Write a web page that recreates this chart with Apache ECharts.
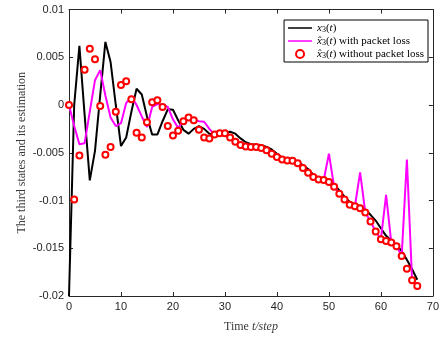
<!DOCTYPE html>
<html><head><meta charset="utf-8">
<script src="https://cdn.jsdelivr.net/npm/echarts@6/dist/echarts.min.js"></script>
<style>html,body{margin:0;padding:0;background:#fff}#c{width:442px;height:338px}</style>
</head><body><div id="c"></div>
<script>
var steps = [0,1,2,3,4,5,6,7,8,9,10,11,12,13,14,15,16,17,18,19,20,21,22,23,24,25,26,27,28,29,30,31,32,33,34,35,36,37,38,39,40,41,42,43,44,45,46,47,48,49,50,51,52,53,54,55,56,57,58,59,60,61,62,63,64,65,66,67];
var stateX3 = [-0.0200,0.0000,0.0062,-0.0010,-0.0079,-0.0048,0.0010,0.0066,0.0045,0.0000,-0.0043,-0.0034,-0.0007,0.0017,0.0011,-0.0012,-0.0031,-0.0031,-0.0017,-0.00045,-0.0005,-0.0016,-0.0026,-0.0030,-0.0025,-0.0022,-0.0025,-0.0030,-0.0031,-0.0030,-0.0029,-0.0028,-0.0030,-0.0035,-0.0039,-0.0041,-0.00415,-0.0042,-0.0044,-0.00465,-0.0051,-0.0055,-0.00575,-0.0058,-0.00595,-0.0063,-0.0067,-0.0073,-0.0076,-0.0077,-0.00785,-0.0083,-0.00895,-0.0096,-0.01015,-0.0104,-0.0106,-0.01095,-0.0115,-0.0121,-0.0129,-0.0137,-0.0142,-0.01465,-0.0153,-0.0162,-0.0172,-0.0183];
var estWithLoss = [0.0000,-0.0022,-0.0041,-0.0040,-0.0007,0.0026,0.00365,0.0010,-0.0013,-0.0022,-0.0019,0.0002,0.0009,0.0000,-0.0012,-0.0023,-0.0002,0.0001,0.0000,-0.0002,-0.0015,-0.0024,-0.0017,-0.0012,-0.00155,-0.0017,-0.00175,-0.0025,-0.0031,-0.00295,-0.00295,-0.0034,-0.00385,-0.0042,-0.00435,-0.0044,-0.0044,-0.0045,-0.00475,-0.0051,-0.00545,-0.0057,-0.0058,-0.00585,-0.0061,-0.0066,-0.0071,-0.00755,-0.0078,-0.00785,-0.0051,-0.00855,-0.0093,-0.0099,-0.01045,-0.0106,-0.00705,-0.01125,-0.0122,-0.01325,-0.01405,-0.0094,-0.0144,-0.0148,-0.0158,-0.0057,-0.01835,-0.01895];
var estNoLoss = [0.0000,-0.0099,-0.0053,0.0037,0.0059,0.0048,-0.0001,-0.0052,-0.0044,-0.0007,0.0021,0.0025,0.0006,-0.0029,-0.0034,-0.0018,0.0003,0.0005,-0.0002,-0.0022,-0.0032,-0.0027,-0.0017,-0.0013,-0.0016,-0.0026,-0.0034,-0.0035,-0.0031,-0.00295,-0.00295,-0.0034,-0.00385,-0.0042,-0.00435,-0.0044,-0.0044,-0.0045,-0.00475,-0.0051,-0.00545,-0.0057,-0.0058,-0.00585,-0.0061,-0.0066,-0.0071,-0.00755,-0.0078,-0.00785,-0.00805,-0.00855,-0.0093,-0.0099,-0.01045,-0.0106,-0.0108,-0.01125,-0.0122,-0.01325,-0.01405,-0.01425,-0.0144,-0.0148,-0.0158,-0.01715,-0.01835,-0.01895];
var seriesNames = ['x3(t)', 'x̂3(t) with packet loss', 'x̂3(t) without packet loss'];
var legendRich = ['{i|x}{s|3}({i|t})', '{i|x̂}{s|3}({i|t}) with packet loss', '{i|x̂}{s|3}({i|t}) without packet loss'];
var xTicks = [0,10,20,30,40,50,60,70];
var xTickLabels = ['0','10','20','30','40','50','60','70'];
var yTicks = [-0.02,-0.015,-0.01,-0.005,0,0.005,0.01];
var yTickLabels = ['-0.02','-0.015','-0.01','-0.005','0','0.005','0.01'];
var xName = 'Time {i|t/step}';
var yName = 'The third states and its estimation';

function pair(xs, ys){ return xs.map(function(x,i){ return [x, ys[i]]; }); }
function lookup(ticks, labels){ return function(v){ for (var i=0;i<ticks.length;i++){ if (Math.abs(ticks[i]-v)<1e-9) return labels[i]; } return ''; }; }

var serif = '"Liberation Serif", "DejaVu Serif", serif';
var sans = '"Liberation Sans", Arial, sans-serif';
var axisCol = '#262626';
var lineIcon = 'path://M0,0 L0.01,0 L0,0.01 Z M0,3.2 L24,3.2 L24,4.8 L0,4.8 Z M0,8 L0.01,8 L0,7.99 Z';
var chart = echarts.init(document.getElementById('c'), null, {renderer:'canvas'});
function frameAxis(){ return {
  axisLine:{show:true, onZero:false, lineStyle:{color:axisCol, width:1}},
  axisTick:{show:true, inside:true, length:4, lineStyle:{color:axisCol}},
  axisLabel:{show:false}, splitLine:{show:false}
}; }
chart.setOption({
  animation:false,
  grid:{left:69, right:3, top:9.5, bottom:38, containLabel:false},
  legend:{
    orient:'vertical', right:14, top:20,
    data:[{name:seriesNames[0], icon:lineIcon, itemStyle:{color:'#000'}},
          {name:seriesNames[1], icon:lineIcon, itemStyle:{color:'#ff00ff'}},
          {name:seriesNames[2], icon:'circle'}],
    backgroundColor:'#fff', borderColor:'#000', borderWidth:1, borderRadius:0,
    padding:[2,4,2,4], itemWidth:24, itemHeight:8, itemGap:1,
    formatter:function(n){ return legendRich[seriesNames.indexOf(n)]; },
    textStyle:{fontFamily:serif, fontSize:11, color:'#000', lineHeight:12,
      rich:{i:{fontFamily:serif, fontStyle:'italic', fontSize:11, color:'#000', lineHeight:12},
            s:{fontFamily:serif, fontSize:8, color:'#000', lineHeight:12, verticalAlign:'bottom'}}}
  },
  xAxis:[Object.assign({type:'value', min:0, max:70, interval:10, position:'top'}, frameAxis()), {
    type:'value', min:0, max:70, interval:10, position:'bottom',
    axisLine:{show:true, onZero:false, lineStyle:{color:axisCol, width:1}},
    axisTick:{show:true, inside:true, length:4, lineStyle:{color:axisCol}},
    axisLabel:{color:axisCol, fontFamily:sans, fontSize:11, margin:5, formatter:lookup(xTicks, xTickLabels)},
    splitLine:{show:false},
    name:xName, nameLocation:'middle', nameGap:25, nameMoveOverlap:false,
    nameTextStyle:{fontFamily:serif, fontSize:12, color:'#3a3a3a',
      rich:{i:{fontFamily:serif, fontStyle:'italic', fontSize:12, color:'#3a3a3a'}}}
  }],
  yAxis:[Object.assign({type:'value', min:-0.02, max:0.01, interval:0.005, position:'right'}, frameAxis()), {
    type:'value', min:-0.02, max:0.01, interval:0.005, position:'left',
    axisLine:{show:true, onZero:false, lineStyle:{color:axisCol, width:1}},
    axisTick:{show:true, inside:true, length:4, lineStyle:{color:axisCol}},
    axisLabel:{color:axisCol, fontFamily:sans, fontSize:11, margin:5, formatter:lookup(yTicks, yTickLabels)},
    splitLine:{show:false},
    name:yName, nameLocation:'middle', nameGap:41, nameRotate:90, nameMoveOverlap:false,
    nameTextStyle:{fontFamily:serif, fontSize:12, color:'#3a3a3a'}
  }],
  series:[
    {name:seriesNames[0], type:'line', xAxisIndex:1, yAxisIndex:1, data:pair(steps, stateX3), symbol:'none', smooth:false,
     lineStyle:{color:'#000', width:2}, itemStyle:{color:'#000'}, z:2},
    {name:seriesNames[1], type:'line', xAxisIndex:1, yAxisIndex:1, data:pair(steps, estWithLoss), symbol:'none', smooth:false,
     lineStyle:{color:'#ff00ff', width:2}, itemStyle:{color:'#ff00ff'}, z:3},
    {name:seriesNames[2], type:'scatter', xAxisIndex:1, yAxisIndex:1, data:pair(steps, estNoLoss), symbol:'circle', symbolSize:6,
     itemStyle:{color:'#fff', opacity:1, borderColor:'#ff0000', borderWidth:2}, z:4}
  ]
});
</script></body></html>
